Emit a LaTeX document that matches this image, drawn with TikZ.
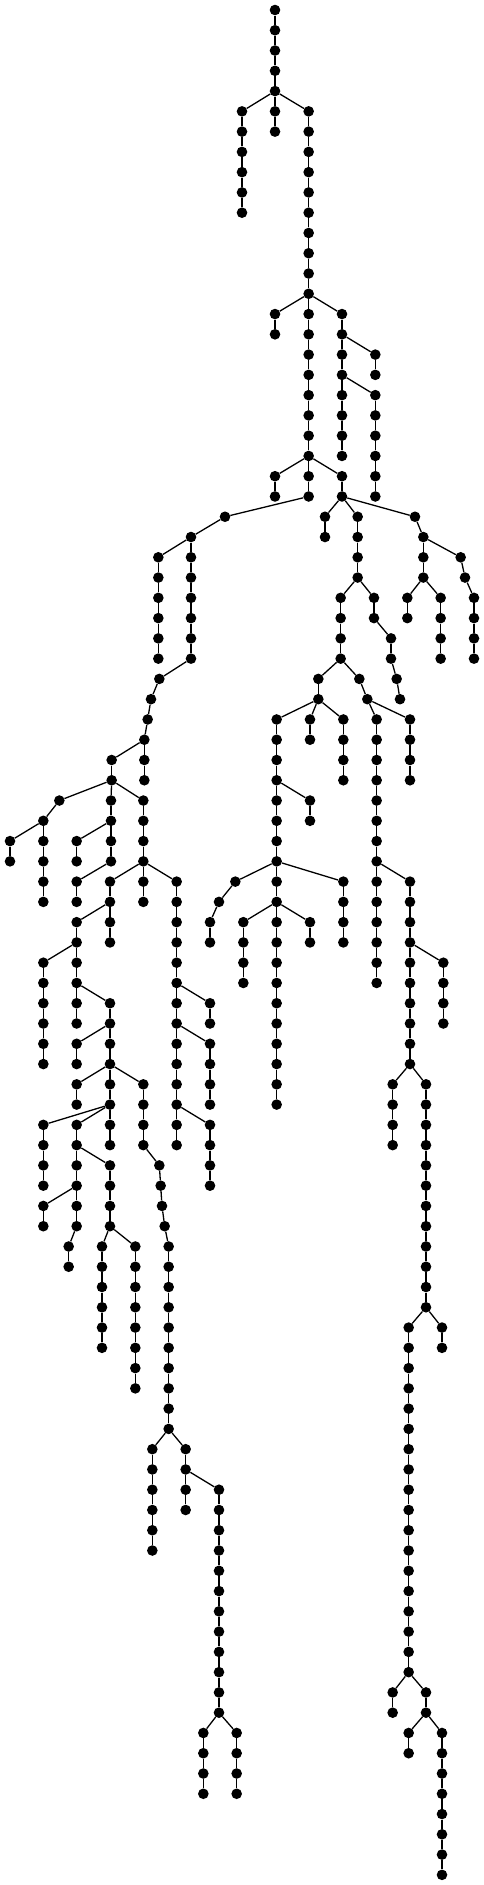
\documentclass[tikz,border=0pt]{standalone}
\usepackage{tikz}

% vertical run of beads hanging from a parent: parent, name, x (thirds of a px), first level, last level
\newcommand{\branch}[5]{%
  \foreach \lv in {#4,...,#5} {
    \node[bead] (#2-\lv) at ({#3/3},{10+20.27*\lv}) {};
  }
  \draw[link] (#1) -- (#2-#4);
  \foreach \lv in {#4,...,#5} {
    \ifnum\lv>#4\relax
      \pgfmathtruncatemacro{\prv}{\lv-1}
      \draw[link] (#2-\prv) -- (#2-\lv);
    \fi
  }
}

\begin{document}
\begin{tikzpicture}[x=1pt, y=-1pt,
    bead/.style={circle, fill=black, inner sep=0pt, minimum size=10.6pt},
    link/.style={line width=1.3pt}]
        \useasboundingbox (0,0) rectangle (484,1885);

        % Draw trunk
        \node[bead] (a-0) at ({825/3},10) {};
        \branch{a-0}{a}{825}{1}{4}
        \branch{a-4}{b}{726}{5}{10}
        \branch{a-4}{c}{825}{5}{6}
        \branch{a-4}{d}{926}{5}{14}
        \branch{d-14}{e}{825}{15}{16}
        \branch{d-14}{f}{926}{15}{22}
        \branch{d-14}{g}{1026}{15}{22}
        \branch{g-16}{h}{1126}{17}{18}
        \branch{g-18}{i}{1126}{19}{24}
        \branch{f-22}{j}{825}{23}{24}
        \branch{f-22}{k}{926}{23}{24}
        \branch{f-22}{l}{1026}{23}{24}

        % Draw left subtree
        \branch{k-24}{m}{675}{25}{25}
        \branch{m-25}{n}{573}{26}{26}
        \branch{n-26}{o}{475}{27}{32}
        \branch{n-26}{p}{573}{27}{32}
        \branch{p-32}{q}{478}{33}{33}
        \branch{q-33}{q}{453}{34}{34}
        \branch{q-34}{q}{443}{35}{35}
        \branch{q-35}{q}{433}{36}{36}
        \branch{q-36}{r}{433}{37}{38}
        \branch{q-36}{s}{335}{37}{38}
        \branch{s-38}{t}{178}{39}{39}
        \branch{t-39}{t}{130}{40}{40}
        \branch{t-40}{u}{30}{41}{42}
        \branch{t-40}{v}{130}{41}{44}
        \branch{s-38}{w}{333}{39}{42}
        \branch{w-40}{x}{230}{41}{42}
        \branch{w-42}{y}{230}{43}{44}
        \branch{s-38}{z}{430}{39}{42}
        \branch{z-42}{aa}{330}{43}{46}
        \branch{z-42}{ab}{430}{43}{44}
        \branch{z-42}{ac}{530}{43}{56}
        \branch{ac-48}{ad}{630}{49}{50}
        \branch{ac-50}{ae}{630}{51}{54}
        \branch{ac-54}{af}{630}{55}{58}
        \branch{aa-44}{ag}{230}{45}{50}
        \branch{ag-46}{ah}{130}{47}{52}
        \branch{ag-48}{ai}{330}{49}{56}
        \branch{ai-50}{aj}{230}{51}{52}
        \branch{ai-52}{ak}{230}{53}{54}
        \branch{ai-52}{al}{430}{53}{56}
        \branch{al-56}{am}{478}{57}{57}
        \branch{am-57}{am}{482}{58}{58}
        \branch{am-58}{am}{486}{59}{59}
        \branch{am-59}{am}{494}{60}{60}
        \branch{am-60}{an}{506}{61}{70}
        \branch{an-70}{ao}{457}{71}{76}
        \branch{an-70}{ap}{557}{71}{74}
        \branch{ap-72}{aq}{657}{73}{84}
        \branch{aq-84}{ar}{610}{85}{88}
        \branch{aq-84}{as}{710}{85}{88}
        \branch{ai-54}{at}{130}{55}{58}
        \branch{ai-54}{au}{230}{55}{60}
        \branch{au-56}{av}{330}{57}{60}
        \branch{au-58}{aw}{130}{59}{60}
        \branch{au-60}{ax}{206}{61}{62}
        \branch{av-60}{ay}{306}{61}{66}
        \branch{av-60}{az}{406}{61}{68}

        % Draw right subtree
        \branch{l-24}{ba}{975}{25}{26}
        \branch{l-24}{bb}{1073}{25}{28}
        \branch{bb-28}{bc}{1122}{29}{30}
        \branch{bc-30}{bd}{1173}{31}{32}
        \branch{bd-32}{bd}{1190}{33}{33}
        \branch{bd-33}{bd}{1200}{34}{34}
        \branch{bb-28}{be}{1022}{29}{32}
        \branch{be-32}{bf}{955}{33}{34}
        \branch{be-32}{bg}{1078}{33}{33}
        \branch{bg-33}{bg}{1102}{34}{34}
        \branch{bf-34}{bh}{830}{35}{42}
        \branch{bh-38}{bi}{930}{39}{40}
        \branch{bf-34}{bj}{930}{35}{36}
        \branch{bf-34}{bk}{1030}{35}{38}
        \branch{bg-34}{bl}{1130}{35}{48}
        \branch{bg-34}{bm}{1230}{35}{38}
        \branch{bl-42}{bn}{1230}{43}{52}
        \branch{bn-46}{bo}{1330}{47}{50}
        \branch{bn-52}{bp}{1178}{53}{56}
        \branch{bn-52}{bq}{1278}{53}{64}
        \branch{bq-64}{br}{1326}{65}{66}
        \branch{bq-64}{bs}{1226}{65}{82}
        \branch{bs-82}{bt}{1178}{83}{84}
        \branch{bs-82}{bu}{1278}{83}{84}
        \branch{bu-84}{bv}{1226}{85}{86}
        \branch{bu-84}{bw}{1326}{85}{92}
        \branch{bh-42}{bx}{706}{43}{43}
        \branch{bx-43}{bx}{657}{44}{44}
        \branch{bx-44}{bx}{630}{45}{46}
        \branch{bh-42}{by}{830}{43}{54}
        \branch{by-44}{bz}{730}{45}{48}
        \branch{by-44}{ca}{930}{45}{46}
        \branch{bh-42}{cb}{1030}{43}{46}
        \branch{l-24}{cc}{1245}{25}{25}
        \branch{cc-25}{cc}{1270}{26}{26}
        \branch{cc-26}{cd}{1270}{27}{28}
        \branch{cd-28}{ce}{1222}{29}{30}
        \branch{cd-28}{cf}{1322}{29}{32}
        \branch{cc-26}{cg}{1382}{27}{27}
        \branch{cg-27}{cg}{1395}{28}{28}
        \branch{cg-28}{ch}{1422}{29}{32}
    \end{tikzpicture}
\end{document}
